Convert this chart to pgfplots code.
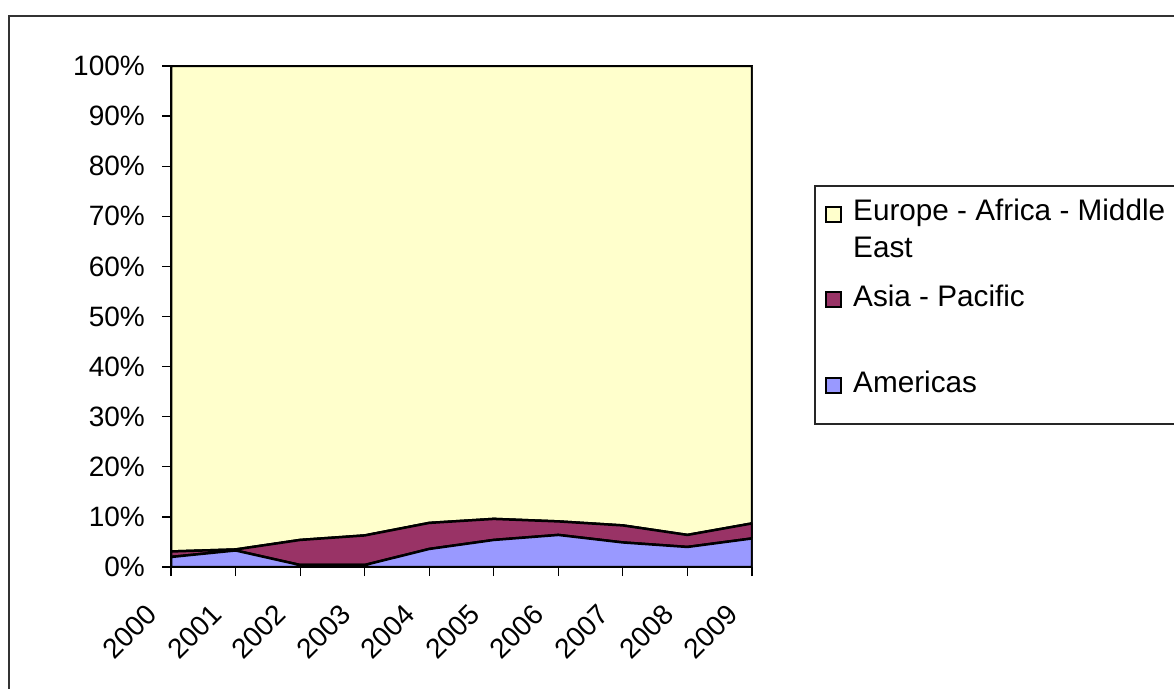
\documentclass[border=0pt]{standalone}
\usepackage{fontspec}
\setmainfont{Liberation Sans}
\usepackage{graphicx}
\usepackage{pgfplots}
\pgfplotsset{compat=1.18}
\definecolor{eur}{HTML}{FFFFCC}
\definecolor{asia}{HTML}{993366}
\definecolor{amer}{HTML}{9999FF}
\newcommand{\tickf}{\fontsize{28}{32}\selectfont}
\newcommand{\legf}{\fontsize{29.7}{34}\selectfont}
\newcommand{\rl}[1]{\rotatebox{45}{\tickf #1}}
\begin{document}
\begin{tikzpicture}[x=1pt,y=1pt]
\useasboundingbox (0,0) rectangle (1174,688);
\begin{scope}
\clip (0,0) rectangle (1174,688);
\draw[line width=1.5pt, black!80] (9,-20) -- (9,672) -- (1200,672);
\draw[line width=1.5pt, black!85] (1200,264) -- (815,264) -- (815,502) -- (1200,502);
\end{scope}
\begin{axis}[
  at={(171pt,121pt)}, anchor=south west,
  scale only axis, width=581pt, height=501pt,
  xmin=0, xmax=9, ymin=0, ymax=100,
  stack plots=y,
  axis line style={line width=1.5pt},
  xtick={0,...,9},
  xticklabels={\rl{2000},\rl{2001},\rl{2002},\rl{2003},\rl{2004},\rl{2005},\rl{2006},\rl{2007},\rl{2008},\rl{2009}},
  ytick={0,10,...,100},
  yticklabels={0\%,10\%,20\%,30\%,40\%,50\%,60\%,70\%,80\%,90\%,100\%},
  xtick pos=bottom, ytick pos=left,
  tick align=outside,
  major tick length=9pt,
  tick style={line width=1.2pt, black},
  y tick label style={font=\tickf, inner sep=0pt, xshift=-17pt},
  x tick label style={font=\tickf, inner sep=0pt, anchor=north east, xshift=-12pt, yshift=-26pt},
]
\addplot[fill=amer, draw=black, line width=2.5pt] coordinates {
(0,2.0) (1,3.3) (2,0.4) (3,0.4) (4,3.6) (5,5.4) (6,6.4) (7,4.9) (8,4.0) (9,5.7)} \closedcycle;
\addplot[fill=asia, draw=black, line width=2.5pt] coordinates {
(0,1.1) (1,0.2) (2,5.0) (3,5.9) (4,5.2) (5,4.2) (6,2.7) (7,3.4) (8,2.4) (9,3.0)} \closedcycle;
\addplot[fill=eur, draw=black, line width=2.5pt] coordinates {
(0,96.9) (1,96.5) (2,94.6) (3,93.7) (4,91.2) (5,90.4) (6,90.9) (7,91.7) (8,93.6) (9,91.3)} \closedcycle;
\end{axis}
% legend
\draw[fill=eur, line width=1.2pt] (826,466) rectangle (841,481);
\draw[fill=asia, line width=1.2pt] (826,381) rectangle (841,396);
\draw[fill=amer, line width=1.2pt] (826,295) rectangle (841,310);
\node[anchor=base west, inner sep=0pt, font=\legf] at (853,467) {Europe - Africa - Middle};
\node[anchor=base west, inner sep=0pt, font=\legf] at (853,430) {East};
\node[anchor=base west, inner sep=0pt, font=\legf] at (853,381) {Asia - Pacific};
\node[anchor=base west, inner sep=0pt, font=\legf] at (853,295) {Americas};
\end{tikzpicture}
\end{document}
